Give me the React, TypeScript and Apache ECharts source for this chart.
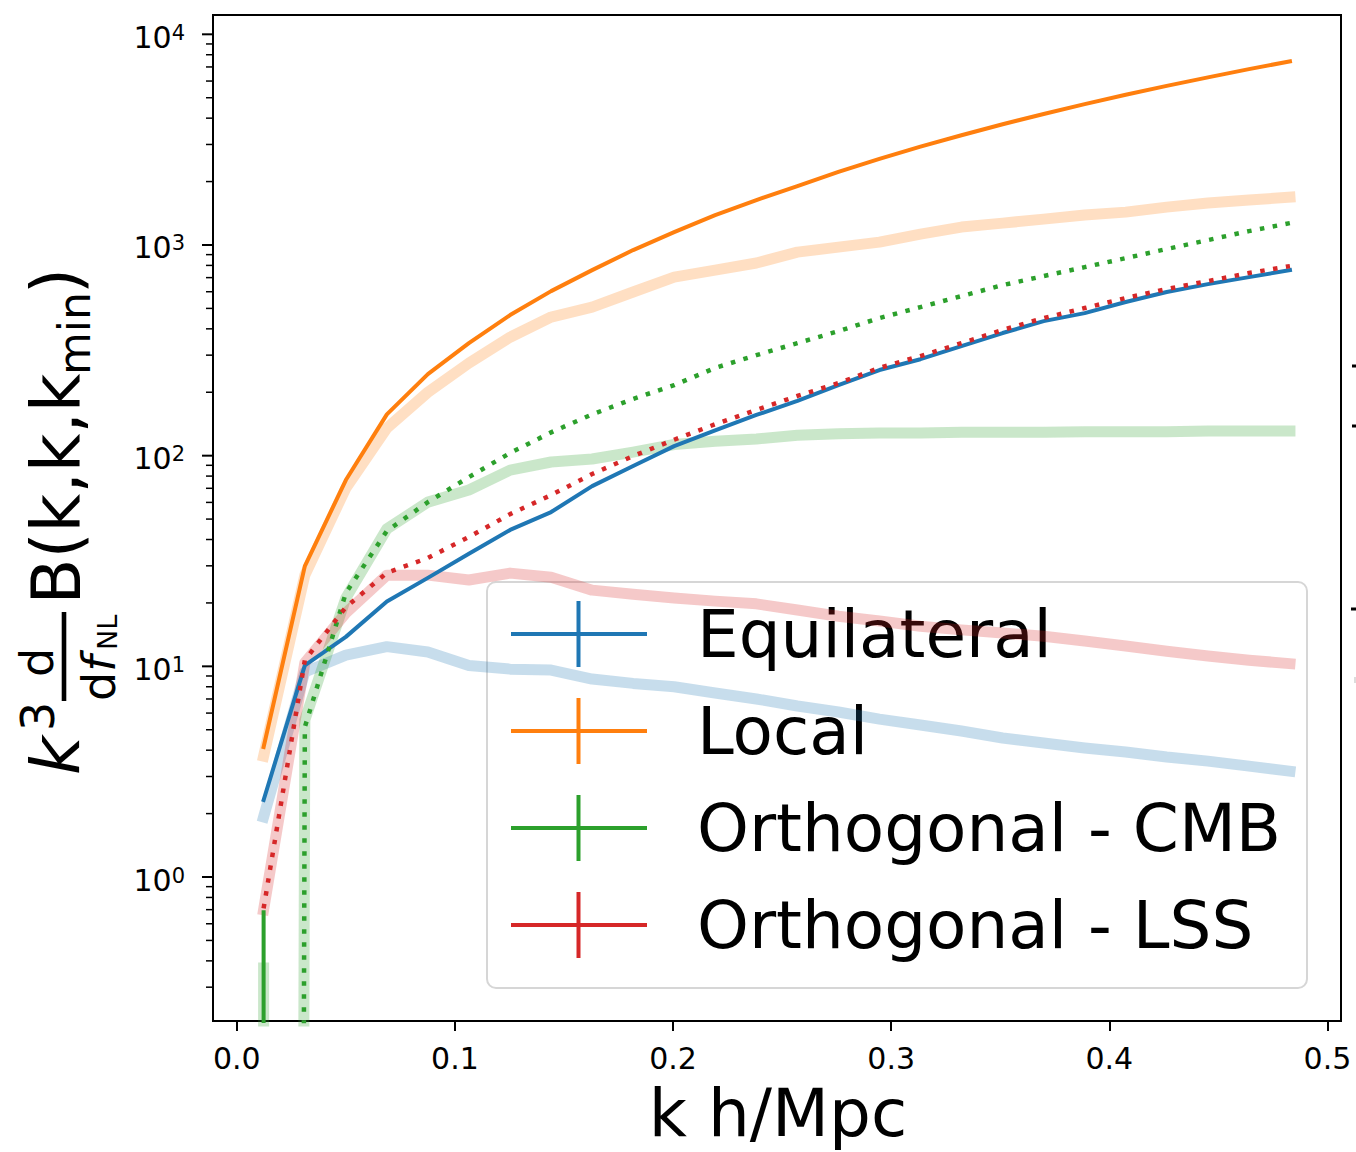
import React, { useEffect, useRef } from "react";
import * as echarts from "echarts";

// k bins (h/Mpc)
const K = [
  0.0123, 0.0312, 0.05, 0.0688, 0.0876, 0.1064, 0.1253, 0.1441, 0.1629, 0.1817,
  0.2005, 0.2193, 0.2382, 0.257, 0.2758, 0.2946, 0.3134, 0.3322, 0.3511, 0.3699,
  0.3887, 0.4075, 0.4263, 0.4452, 0.464, 0.4828,
];

// non-positive bins, clipped the way a log axis does
const CLIP = 1e-60;

// derivative curves (thin lines)
const equilateral = [
  2.32, 10.1, 13.8, 20.3, 26.3, 34.2, 44.4, 54, 71.7, 89.3, 111, 132, 156, 182, 216,
  255, 287, 331, 382, 435, 475, 536, 598, 652, 704, 760,
];
const local = [
  4.14, 29.9, 76.6, 157, 244, 342, 465, 604, 760, 946, 1151, 1387, 1634, 1904, 2221,
  2563, 2929, 3319, 3741, 4188, 4664, 5164, 5692, 6248, 6833, 7443,
];
const orthoCmbDotted = [
  CLIP, 5.15, 22.3, 43.9, 60.2, 79.1, 103, 129, 157, 186, 216, 261, 300, 342, 390,
  450, 507, 572, 645, 712, 785, 866, 957, 1055, 1164, 1270,
];
const orthoLssDotted = [
  0.71, 10.7, 19.1, 27.8, 32.7, 41.1, 52.8, 65, 81.8, 99.6, 119, 141, 165, 192, 221,
  261, 297, 342, 395, 450, 502, 560, 618, 674, 736, 794,
];

// broad translucent curves
const equilateralBand = [
  1.93, 9.4, 11.3, 12.4, 11.7, 10.1, 9.7, 9.6, 8.7, 8.3, 8.0, 7.47, 7.0, 6.48, 6.07,
  5.62, 5.27, 4.93, 4.57, 4.33, 4.1, 3.92, 3.71, 3.55, 3.36, 3.18,
];
const localBand = [
  3.75, 27.1, 70.2, 135, 200, 275, 365, 455, 507, 598, 704, 760, 821, 925, 977, 1032,
  1127, 1216, 1270, 1327, 1387, 1432, 1513, 1581, 1634, 1687,
];
const orthoCmbBand = [
  CLIP, 5.56, 21.1, 44.9, 60.2, 68.7, 85.4, 93.3, 96.4, 104, 113, 117, 120, 125, 127,
  128, 128, 129, 129, 129, 130, 130, 130, 131, 131, 131,
];
const orthoLssBand = [
  0.7, 10.4, 17.9, 27.1, 27.1, 25.7, 27.7, 26.5, 23.0, 22.0, 21.1, 20.4, 19.8, 18.5,
  17.3, 16.4, 15.5, 14.9, 14.4, 13.9, 13.2, 12.5, 11.8, 11.2, 10.7, 10.3,
];

// error bars of the first k bin for Orthogonal - CMB: [upper, lower]
const cmbLineErrorBar = [0.68, CLIP];
const cmbBandErrorBar = [0.37, CLIP];

// ticks
const X_TICKS = [0, 0.1, 0.2, 0.3, 0.4, 0.5];
const Y_MAJOR = [1, 10, 100, 1000, 10000];
const Y_MINOR = [
  0.3, 0.4, 0.5, 0.6, 0.7, 0.8, 0.9, 2, 3, 4, 5, 6, 7, 8, 9, 20, 30, 40, 50, 60, 70,
  80, 90, 200, 300, 400, 500, 600, 700, 800, 900, 2000, 3000, 4000, 5000, 6000, 7000,
  8000, 9000,
];

const LEGEND_NAMES = ["Equilateral", "Local", "Orthogonal - CMB", "Orthogonal - LSS"];
const BLUE = "#1f77b4";
const ORANGE = "#ff7f0e";
const GREEN = "#2ca02c";
const RED = "#d62728";
const LEGEND_COLORS = [BLUE, ORANGE, GREEN, RED];

const FONT = "DejaVu Sans";
const X_MIN = -0.0109;
const X_MAX = 0.5062;
const Y_MIN = 0.2073;
const Y_MAX = 12350;

const pairs = (vals: number[]) => K.map((k, i) => [k, vals[i]]);

function bandSeries(vals: number[], color: string, data?: any[]) {
  return {
    type: "line",
    data: data || pairs(vals),
    symbol: "none",
    silent: true,
    z: 1,
    lineStyle: { color, width: 11, opacity: 0.25, cap: "square", join: "round" },
  };
}

function solidSeries(vals: number[], color: string, data?: any[]) {
  return {
    type: "line",
    data: data || pairs(vals),
    symbol: "none",
    silent: true,
    z: 3,
    lineStyle: { color, width: 4, cap: "square", join: "round" },
  };
}

function dottedSeries(vals: number[], color: string) {
  return {
    type: "line",
    data: pairs(vals),
    symbol: "none",
    silent: true,
    z: 3,
    lineStyle: { color, width: 4.5, type: [4.5, 8.5], cap: "butt", join: "round" },
  };
}

// tick marks on the left spine of the log axis: [x, value, length, width]
function yTickSeries() {
  const data = [
    ...Y_MAJOR.map((v) => [X_MIN, v, 10, 2]),
    ...Y_MINOR.map((v) => [X_MIN, v, 6, 1.5]),
  ];
  return {
    type: "custom",
    silent: true,
    clip: false,
    z: 4,
    data,
    encode: { x: 0, y: 1 },
    renderItem: (_params: any, api: any) => {
      const p = api.coord([api.value(0), api.value(1)]);
      const len = api.value(2);
      return {
        type: "line",
        shape: { x1: p[0] - 1 - len, y1: p[1], x2: p[0] - 1, y2: p[1] },
        style: { stroke: "#000", lineWidth: api.value(3) },
      };
    },
  };
}

// vertical position of a 'middle' aligned text whose alphabetic baseline is at b
const mid = (b: number, fs: number) => b - 0.346 * fs;

function txt(x: number, baseline: number, text: string, fs: number, extra: any = {}) {
  return {
    type: "text",
    x,
    y: mid(baseline, fs),
    style: {
      text,
      fontSize: fs,
      fontFamily: FONT,
      fill: "#000",
      align: "left",
      verticalAlign: "middle",
      ...extra,
    },
  };
}

function buildOption() {
  const legendRows = [634, 731, 828, 925];
  const legendChildren: any[] = [
    {
      type: "rect",
      shape: { x: 487, y: 582, width: 820, height: 406, r: 9 },
      style: { fill: "rgba(255,255,255,0.8)", stroke: "#d6d6d6", lineWidth: 2 },
    },
  ];
  LEGEND_NAMES.forEach((name, i) => {
    const yy = legendRows[i];
    const c = LEGEND_COLORS[i];
    legendChildren.push(
      { type: "line", shape: { x1: 511, y1: yy, x2: 647, y2: yy }, style: { stroke: c, lineWidth: 4 } },
      { type: "line", shape: { x1: 578.5, y1: yy - 33, x2: 578.5, y2: yy + 33 }, style: { stroke: c, lineWidth: 4 } },
      {
        type: "text",
        x: 697,
        y: yy,
        style: { text: name, fontSize: 66, fontFamily: FONT, fill: "#000", align: "left", verticalAlign: "middle" },
      }
    );
  });

  // y axis title, written along the axis from bottom to top
  const yTitle = {
    type: "group",
    x: 80,
    y: 775,
    rotation: Math.PI / 2,
    children: [
      txt(0, 0, "k", 67, { fontStyle: "italic" }),
      txt(44, -26, "3", 46),
      { type: "rect", shape: { x: 74, y: -18.3, width: 89, height: 4.6 }, style: { fill: "#000" } },
      txt(112.7, -27, "d", 46, { align: "center" }),
      txt(74, 35, "d", 46),
      txt(103.2, 35, "f", 46, { fontStyle: "italic" }),
      txt(125, 37, "NL", 27),
      txt(170.5, 0, "B(k,k,k", 67),
      txt(400, 10, "min", 44),
      txt(481, 0, ")", 67),
    ],
  };

  const graphic: any[] = [
    { type: "group", z: 50, children: legendChildren },
    {
      type: "text",
      x: 778,
      y: mid(1136, 66),
      style: { text: "k h/Mpc", fontSize: 66, fontFamily: FONT, fill: "#000", align: "center", verticalAlign: "middle" },
    },
    yTitle,
    { type: "rect", shape: { x: 1352, y: 364.5, width: 4, height: 3 }, style: { fill: "#000" } },
    { type: "rect", shape: { x: 1352, y: 424.5, width: 4, height: 3 }, style: { fill: "#000" } },
    { type: "rect", shape: { x: 1351, y: 607.5, width: 5, height: 3 }, style: { fill: "#000" } },
    { type: "rect", shape: { x: 1354, y: 677, width: 2, height: 6 }, style: { fill: "#dddddd" } },
  ];

  const series: any[] = [
    bandSeries(equilateralBand, BLUE),
    bandSeries(localBand, ORANGE),
    bandSeries(orthoCmbBand, GREEN),
    bandSeries([], GREEN, cmbBandErrorBar.map((v) => [K[0], v])),
    bandSeries(orthoLssBand, RED),
    solidSeries(equilateral, BLUE),
    solidSeries(local, ORANGE),
    solidSeries([], GREEN, cmbLineErrorBar.map((v) => [K[0], v])),
    dottedSeries(orthoCmbDotted, GREEN),
    dottedSeries(orthoLssDotted, RED),
    yTickSeries(),
  ];

  return {
    animation: false,
    backgroundColor: "#ffffff",
    grid: {
      left: 213,
      right: 15,
      top: 15,
      bottom: 131,
      show: true,
      borderColor: "#000",
      borderWidth: 2,
      backgroundColor: "transparent",
      containLabel: false,
      outerBoundsMode: "none",
    },
    xAxis: {
      type: "value",
      min: X_MIN,
      max: X_MAX,
      axisLine: { show: false },
      splitLine: { show: false },
      axisTick: { show: true, length: 10, customValues: X_TICKS, lineStyle: { color: "#000", width: 2 } },
      axisLabel: {
        customValues: X_TICKS,
        formatter: (v: number) => v.toFixed(1),
        fontSize: 30,
        fontFamily: FONT,
        color: "#000",
        margin: 22,
      },
    },
    yAxis: {
      type: "log",
      logBase: 10,
      min: Y_MIN,
      max: Y_MAX,
      position: "left",
      axisLine: { show: false },
      splitLine: { show: false },
      minorTick: { show: false },
      axisTick: { show: false },
      axisLabel: {
        customValues: Y_MAJOR,
        margin: 28,
        padding: [6, 0, 0, 0],
        formatter: (v: number) => `{b|10}{s|${Math.round(Math.log10(v))}}`,
        rich: {
          b: { fontSize: 30, fontFamily: FONT, color: "#000", lineHeight: 30 },
          s: { fontSize: 21, fontFamily: FONT, color: "#000", lineHeight: 14, verticalAlign: "top" },
        },
      },
    },
    series,
    graphic,
  };
}

export default function App() {
  const ref = useRef<HTMLDivElement>(null);
  useEffect(() => {
    document.body.style.margin = "0";
    const chart = echarts.init(ref.current as HTMLDivElement, null, { renderer: "svg" });
    chart.setOption(buildOption() as any);
    return () => chart.dispose();
  }, []);
  return <div ref={ref} style={{ width: 1356, height: 1152 }} />;
}
